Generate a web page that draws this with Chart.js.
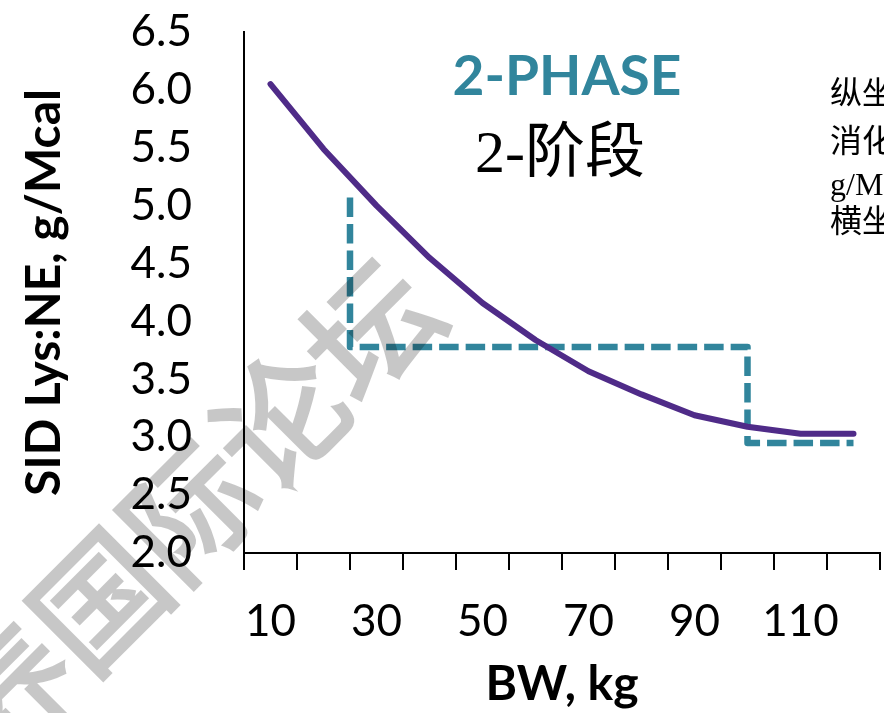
<!DOCTYPE html>
<html>
<head>
<meta charset="utf-8">
<script src="https://cdn.jsdelivr.net/npm/chart.js@4.4.1/dist/chart.umd.min.js"></script>
<style>
  html, body { margin: 0; padding: 0; background: #ffffff; overflow: hidden; }
  canvas { display: block; }
</style>
</head>
<body>
<canvas id="chart" width="884" height="713"></canvas>
<script>
// Body weight categories (kg) and the SID Lys:NE requirement curve (g/Mcal)
const bodyWeights = [10, 20, 30, 40, 50, 60, 70, 80, 90, 100, 110, 120];
const lysRequirement = [6.05, 5.49, 5.00, 4.55, 4.16, 3.84, 3.57, 3.37, 3.19, 3.09, 3.03, 3.03];

// Two-phase feeding program (step line)
const phaseBW = [25, 25, 100, 100, 120];
const phaseLys = [5.07, 3.78, 3.78, 2.95, 2.95];

// Axis labels
const xTickLabels = [10, 30, 50, 70, 90, 110];
const yMin = 2.0, yMax = 6.5, yStep = 0.5;

// Text blocks
const phaseTitle = '2-PHASE';
const phaseTitleCn = '2-阶段';
const noteLines = ['纵坐标：标准回肠可', '消化赖氨酸：净能，', 'g/Mcal；', '横坐标：体重，kg'];
const watermark = '猪营养国际论坛';

const TEAL = '#31859C';
const PURPLE = '#4F2B88';

// Category edges carry the tick marks; labels sit at every other category centre
const catHalf = (bodyWeights[1] - bodyWeights[0]) / 2;
const tickEdges = bodyWeights.map(w => w - catHalf).concat([bodyWeights[bodyWeights.length - 1] + catHalf]);

// Watermark is rendered opaque on its own layer, then laid over the chart translucently
function drawWatermark(ctx, w, h) {
  const layer = document.createElement('canvas');
  layer.width = w;
  layer.height = h;
  const g = layer.getContext('2d');
  g.translate(416, 284);
  g.rotate(-Math.PI / 4);
  g.font = '128px "Noto Sans CJK SC"';
  g.textAlign = 'right';
  g.textBaseline = 'middle';
  g.fillStyle = '#000';
  g.strokeStyle = '#000';
  g.lineWidth = 3.5;
  g.lineJoin = 'miter';
  g.fillText(watermark, 0, 0);
  g.strokeText(watermark, 0, 0);
  ctx.save();
  ctx.globalAlpha = 0.22;
  ctx.drawImage(layer, 0, 0);
  ctx.restore();
}

const overlayText = {
  id: 'overlayText',
  afterDraw(chart) {
    const ctx = chart.ctx;
    ctx.save();
    ctx.textAlign = 'center';
    ctx.textBaseline = 'alphabetic';
    ctx.fillStyle = TEAL;
    ctx.font = 'bold 55px Lato';
    ctx.fillText(phaseTitle, 567, 95);
    ctx.fillStyle = '#000';
    ctx.font = '60px "Liberation Serif", "Noto Sans CJK SC"';
    ctx.fillText(phaseTitleCn, 560, 172);

    ctx.textAlign = 'left';
    ctx.font = '32px "Liberation Serif", "Noto Sans CJK SC"';
    const noteY = [104, 152, 195, 232];
    noteLines.forEach((t, i) => ctx.fillText(t, 830, noteY[i]));
    ctx.restore();

    drawWatermark(ctx, chart.width, chart.height);
  }
};

new Chart(document.getElementById('chart'), {
  type: 'line',
  data: {
    datasets: [
      {
        label: 'SID Lys:NE',
        data: bodyWeights.map((x, i) => ({ x, y: lysRequirement[i] })),
        borderColor: PURPLE,
        borderWidth: 6,
        pointRadius: 0,
        tension: 0,
        fill: false,
        borderCapStyle: 'round',
        borderJoinStyle: 'round'
      },
      {
        label: '2-PHASE',
        data: phaseBW.map((x, i) => ({ x, y: phaseLys[i] })),
        borderColor: TEAL,
        borderWidth: 6.5,
        borderDash: [19.5, 7],
        pointRadius: 0,
        tension: 0,
        fill: false,
        borderCapStyle: 'butt',
        borderJoinStyle: 'round'
      }
    ]
  },
  options: {
    responsive: false,
    devicePixelRatio: 1,
    animation: false,
    layout: { padding: { top: 32, right: 4, left: 0, bottom: 0 } },
    plugins: { legend: { display: false }, tooltip: { enabled: false } },
    scales: {
      x: {
        type: 'linear',
        min: tickEdges[0],
        max: tickEdges[tickEdges.length - 1],
        afterBuildTicks(scale) {
          const vals = tickEdges.concat(xTickLabels).sort((a, b) => a - b);
          scale.ticks = vals.map(v => ({ value: v }));
        },
        afterFit(scale) {
          scale.height = 160;
          scale.paddingLeft = 0;
          scale.paddingRight = 0;
        },
        border: { color: '#000', width: 2 },
        grid: {
          drawOnChartArea: false,
          tickLength: 17,
          lineWidth: 2,
          tickColor: c => (c.tick && tickEdges.includes(c.tick.value)) ? '#000' : 'rgba(0,0,0,0)'
        },
        ticks: {
          autoSkip: false,
          maxRotation: 0,
          color: '#000',
          padding: 25,
          font: { family: 'Lato', size: 44 },
          callback: v => xTickLabels.includes(v) ? String(v) : ''
        },
        title: {
          display: true,
          text: 'BW, kg',
          color: '#000',
          padding: { top: 0, bottom: 0 },
          font: { family: 'Lato', size: 48, weight: 'bold' }
        }
      },
      y: {
        min: yMin,
        max: yMax,
        afterFit(scale) {
          scale.width = 244;
          scale.paddingTop = 0;
          scale.paddingBottom = 0;
        },
        border: { color: '#000', width: 2 },
        grid: { drawOnChartArea: false, drawTicks: false },
        ticks: {
          stepSize: yStep,
          autoSkip: false,
          color: '#000',
          padding: 52,
          font: { family: 'Lato', size: 44 },
          callback: v => v.toFixed(1)
        },
        title: {
          display: true,
          text: 'SID Lys:NE, g/Mcal',
          color: '#000',
          padding: { top: 16, bottom: 0 },
          font: { family: 'Lato', size: 48, weight: 'bold' }
        }
      }
    }
  },
  plugins: [overlayText]
});
</script>
</body>
</html>
